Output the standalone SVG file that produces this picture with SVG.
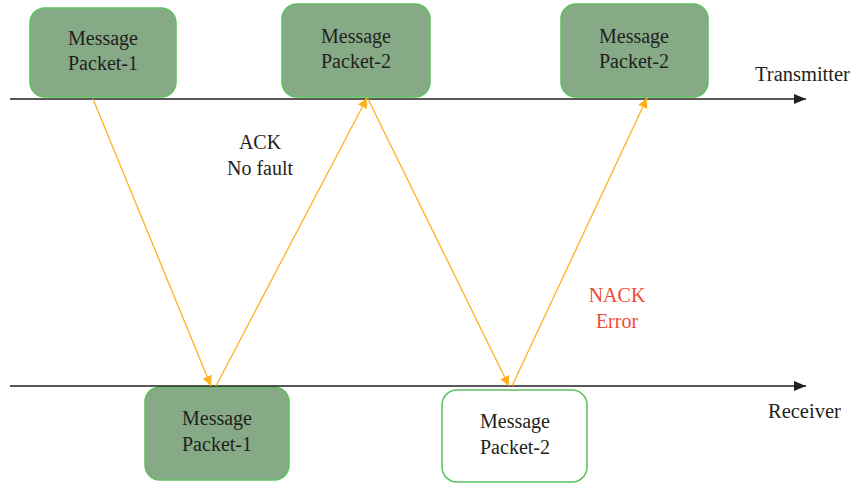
<svg xmlns="http://www.w3.org/2000/svg" width="855" height="483" viewBox="0 0 855 483">
<defs>
<style>
.box{fill:#86AA86;stroke:#5DC05D;stroke-width:1.5}
.boxw{fill:#FFFFFF;stroke:#5DC05D;stroke-width:1.5}
.t{font-family:"Liberation Serif","Times New Roman",serif;font-size:20px;fill:#231F20;text-anchor:middle}
.lbl{font-family:"Liberation Serif","Times New Roman",serif;font-size:20.5px;fill:#231F20}
.red{fill:#EE4B36}
.axis{stroke:#231F20;stroke-width:1.5;fill:none}
.msg{stroke:#FDB022;stroke-width:1.3;fill:none}
</style>
<marker id="ah" viewBox="0 0 10 10" refX="10" refY="5" markerWidth="10" markerHeight="10" markerUnits="userSpaceOnUse" orient="auto">
<path d="M0,0 L10,5 L0,10 z" fill="#FDB022"/>
</marker>
<marker id="bk" viewBox="0 0 12 10" refX="12" refY="5" markerWidth="12" markerHeight="10" markerUnits="userSpaceOnUse" orient="auto">
<path d="M0,0 L12,5 L0,10 z" fill="#231F20"/>
</marker>
</defs>
<rect width="855" height="483" fill="#FFFFFF"/>

<g id="tx-packet1">
<rect class="box" x="30" y="8" width="146" height="89" rx="15"/>
<text class="t" x="103" y="45">Message</text>
<text class="t" x="103" y="70">Packet-1</text>
</g>
<g id="tx-packet2">
<rect class="box" x="282" y="4" width="148" height="93" rx="15"/>
<text class="t" x="356" y="43">Message</text>
<text class="t" x="356" y="68">Packet-2</text>
</g>
<g id="tx-packet2-retry">
<rect class="box" x="561" y="4" width="147" height="93" rx="15"/>
<text class="t" x="634" y="43">Message</text>
<text class="t" x="634" y="68">Packet-2</text>
</g>
<g id="rx-packet1">
<rect class="box" x="145" y="387" width="144" height="93" rx="15"/>
<text class="t" x="217" y="425">Message</text>
<text class="t" x="217" y="451">Packet-1</text>
</g>
<g id="rx-packet2">
<rect class="boxw" x="442" y="390" width="145" height="92" rx="15"/>
<text class="t" x="515" y="428">Message</text>
<text class="t" x="515" y="454">Packet-2</text>
</g>

<g id="transmitter">
<text class="lbl" x="755" y="81">Transmitter</text>
</g>
<g id="receiver">
<text class="lbl" x="768" y="418">Receiver</text>
</g>
<g id="ack-label">
<text class="t" x="260" y="149">ACK</text>
<text class="t" x="260" y="175">No fault</text>
</g>
<g id="nack-label">
<text class="t red" x="617" y="302">NACK</text>
<text class="t red" x="617" y="328">Error</text>
</g>

<g id="connectors">
<line class="axis" x1="10" y1="99" x2="806" y2="99" marker-end="url(#bk)"/>
<line class="axis" x1="10" y1="386" x2="806" y2="386" marker-end="url(#bk)"/>
<line class="msg" x1="93" y1="99" x2="211" y2="386" marker-end="url(#ah)"/>
<line class="msg" x1="216" y1="386" x2="367" y2="98" marker-end="url(#ah)"/>
<line class="msg" x1="368" y1="99" x2="509" y2="386" marker-end="url(#ah)"/>
<line class="msg" x1="512" y1="386" x2="647" y2="98" marker-end="url(#ah)"/>
</g>
</svg>
